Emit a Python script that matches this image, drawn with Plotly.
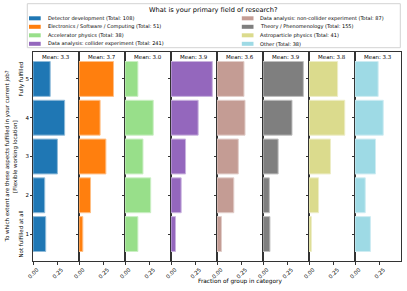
import plotly.graph_objects as go

# ---- data ----
groups = [
    "Detector development (Total: 108)",
    "Electronics / Software / Computing (Total: 51)",
    "Accelerator physics (Total: 38)",
    "Data analysis: collider experiment (Total: 241)",
    "Data analysis: non-collider experiment (Total: 87)",
    "Theory / Phenomenology (Total: 155)",
    "Astroparticle physics (Total: 41)",
    "Other (Total: 38)",
]
levels = [1, 2, 3, 4, 5]
# fraction of group answering level 1..5
fractions = [
    [0.130, 0.120, 0.250, 0.324, 0.176],
    [0.039, 0.118, 0.275, 0.216, 0.353],
    [0.132, 0.263, 0.184, 0.289, 0.132],
    [0.046, 0.104, 0.149, 0.278, 0.423],
    [0.046, 0.172, 0.218, 0.287, 0.276],
    [0.071, 0.065, 0.155, 0.297, 0.413],
    [0.024, 0.098, 0.220, 0.366, 0.293],
    [0.158, 0.105, 0.210, 0.289, 0.237],
]
means = [3.3, 3.7, 3.0, 3.9, 3.6, 3.9, 3.8, 3.3]
colors = ["#1f77b4", "#ff7f0e", "#98df8a", "#9467bd",
          "#c49c94", "#7f7f7f", "#dbdb8d", "#9edae5"]
xtick_vals = [0, 0.25]
xtick_text = ["0.00", "0.25"]
legend_title = "What is your primary field of research?"
ylabel_main = "To which extent are these aspects fulfilled in your current job?"
ylabel_sub = "[Flexible working location]"
low_label = "Not fulfilled at all"
high_label = "Fully fulfilled"
xlabel = "Fraction of group in category"

FONT = "DejaVu Sans"
W, H = 407, 291
ML, MR, MT, MB = 33, 6, 52, 30
PW, PH = W - ML - MR, H - MT - MB

def lighten(hexc, a=0.5):
    r, g, b = int(hexc[1:3], 16), int(hexc[3:5], 16), int(hexc[5:7], 16)
    return "rgb(%d,%d,%d)" % tuple(int(c * (1 - a) + 255 * a) for c in (r, g, b))

n = len(groups)
fig = go.Figure()
layout = {}
for i in range(n):
    sx = "" if i == 0 else str(i + 1)
    fig.add_trace(go.Bar(
        x=fractions[i], y=levels, orientation="h", width=0.9,
        marker=dict(color=colors[i], line=dict(color=lighten(colors[i]), width=1)),
        name=groups[i], showlegend=False, xaxis="x" + sx, yaxis="y" + sx,
    ))
    layout["xaxis" + sx] = dict(
        domain=[i / n, (i + 1) / n], anchor="y" + sx, range=[0, 0.471],
        tickvals=xtick_vals, ticktext=xtick_text, tickangle=-45, ticks="outside",
        ticklen=2.5, tickcolor="#333", showline=True, mirror=True, linecolor="#333",
        linewidth=1, showgrid=False, zeroline=False, fixedrange=True, automargin=False,
        tickfont=dict(size=5.5, family=FONT, color="black"), ticklabelshift=4)
    layout["yaxis" + sx] = dict(
        domain=[0, 1], anchor="x" + sx, range=[0.305, 5.695], tickvals=levels,
        ticks="outside", ticklen=2, tickcolor="#333", showline=True, mirror=True,
        linecolor="#333", linewidth=1, showgrid=False, zeroline=False,
        showticklabels=(i == 0), fixedrange=True, automargin=False,
        tickfont=dict(size=5.5, family=FONT, color="black"))
    fig.add_annotation(text="Mean: %.1f" % means[i], xref="x%s domain" % sx,
                       yref="y%s domain" % sx, x=0.5, y=1, xanchor="center",
                       yanchor="top", showarrow=False,
                       font=dict(size=5.5, family=FONT, color="black"))

# x label under the 5th panel
fig.add_annotation(text=xlabel, xref="x5 domain", yref="paper", x=0.5, y=0,
                   yshift=-20, xanchor="center", yanchor="middle", showarrow=False,
                   font=dict(size=5.8, family=FONT, color="black"))

# y labels
def yann(text, y, yref, xs, size=5.5):
    fig.add_annotation(text=text, xref="paper", yref=yref, x=0, y=y, xshift=xs,
                       xanchor="center", yanchor="middle", textangle=-90,
                       showarrow=False, font=dict(size=size, family=FONT, color="black"))

yann(ylabel_main, 0.5, "y domain", -26)
yann(ylabel_sub, 0.5, "y domain", -17.5)
yann(high_label, 5, "y", -11.5)
yann(low_label, 1, "y", -11.5)

# compact matplotlib-like legend
def px2paper(px, py):
    return (px - ML) / PW, (H - MB - py) / PH

x0, y0 = px2paper(27.3, 3.7)
x1, y1 = px2paper(400.3, 47.7)
fig.add_shape(type="rect", xref="paper", yref="paper", x0=x0, y0=y0, x1=x1, y1=y1,
              line=dict(color="#d3d3d3", width=1), fillcolor="white", layer="above")
tx, ty = px2paper(213.8, 9.5)
fig.add_annotation(text=legend_title, xref="paper", yref="paper", x=tx, y=ty,
                   xanchor="center", yanchor="middle", showarrow=False,
                   font=dict(size=6.6, family=FONT, color="black"))
rows_y = [18.3, 26.8, 35.3, 43.8]
cols_x = [29.0, 241.8]
for i, g in enumerate(groups):
    c, r = divmod(i, 4)
    px, py = cols_x[c], rows_y[r]
    a0, b0 = px2paper(px, py + 2.0)
    a1, b1 = px2paper(px + 11.7, py - 2.0)
    fig.add_shape(type="rect", xref="paper", yref="paper", x0=a0, y0=b0, x1=a1, y1=b1,
                  line=dict(width=0), fillcolor=colors[i], layer="above")
    lx, ly = px2paper(px + 16.5, py)
    fig.add_annotation(text=g, xref="paper", yref="paper", x=lx, y=ly,
                       xanchor="left", yanchor="middle", showarrow=False,
                       font=dict(size=5.0, family=FONT, color="black"))

fig.update_layout(width=W, height=H, margin=dict(l=ML, r=MR, t=MT, b=MB),
                  plot_bgcolor="white", paper_bgcolor="white", bargap=0,
                  font=dict(family=FONT, color="black"), **layout)

fig.write_html("out.html",
               config={"displayModeBar": False, "staticPlot": True},
               post_script="document.body.style.margin='0';"
                           "document.body.style.overflow='hidden';")
